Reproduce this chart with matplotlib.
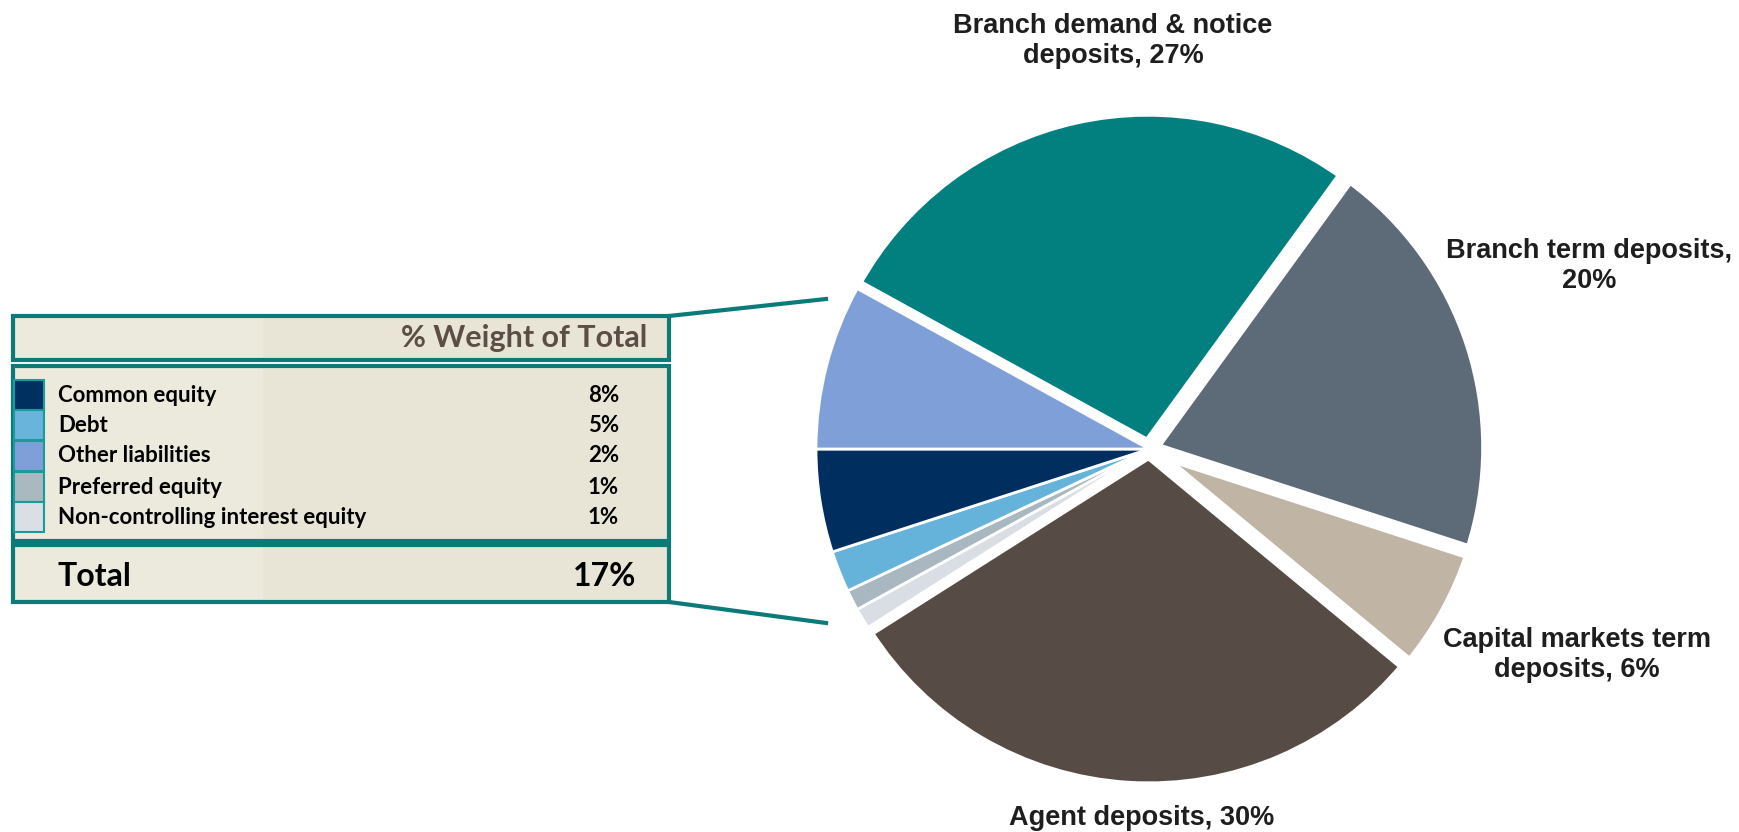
import matplotlib.pyplot as plt
from matplotlib.patches import Rectangle

# pie slices, clockwise from the teal slice
pie_values = [27, 20, 6, 30, 1, 1, 2, 5, 8]
pie_colors = ['#027f7f', '#5d6b78', '#c0b5a5', '#574c45', '#d8dee4',
              '#a9b8c0', '#65b3da', '#002f5f', '#7f9fd8']
big_slice = [True, True, True, True, False, False, False, False, False]

pie_labels = ['Branch demand & notice\ndeposits, 27%',
              'Branch term deposits,\n20%',
              'Capital markets term\ndeposits, 6%',
              'Agent deposits, 30%']
label_pos = [(1113, 41), (1589, 266), (1577, 655), (1142, 818)]

# inset table
table_labels = ['Common equity', 'Debt', 'Other liabilities', 'Preferred equity',
                'Non-controlling interest equity']
table_values = ['8%', '5%', '2%', '1%', '1%']
table_colors = ['#00305f', '#68b4da', '#7f9fd8', '#aab9c0', '#d9dfe4']
table_total = '17%'

W, H = 1739, 832
TEAL = '#0b7b7a'
BG = '#e9e5d6'

fig = plt.figure(figsize=(W / 100, H / 100), dpi=100)
ax = fig.add_axes([0, 0, 1, 1])

def Y(y):
    return H - y

cx, cy, r = 1149, 449, 333
explode = [5 if big else 0 for big in big_slice]
wedges, _ = ax.pie(pie_values, colors=pie_colors, explode=explode,
                   startangle=151.2, counterclock=False, radius=r,
                   center=(cx, Y(cy)),
                   wedgeprops=dict(edgecolor='white', linewidth=2))
for w, big in zip(wedges, big_slice):
    if big:
        w.set_linewidth(8)
ax.set_xlim(0, W)
ax.set_ylim(0, H)
ax.set_aspect('auto')
ax.axis('off')

for txt, (x, y) in zip(pie_labels, label_pos):
    ax.text(x, Y(y), txt, ha='center', va='center', fontsize=19.5,
            fontweight='bold', family='Liberation Sans', color='#1e1e1e',
            linespacing=1.2)

# table boxes
x0, x1, xs = 13, 669, 263
boxes = [(316, 360), (366, 541), (545, 602)]
for top, bot in boxes:
    ax.add_patch(Rectangle((x0, Y(bot)), x1 - x0, bot - top, facecolor=BG,
                           edgecolor='none', zorder=2))
    ax.add_patch(Rectangle((x0, Y(bot)), xs - x0, bot - top, facecolor='#ece9dd',
                           edgecolor='none', zorder=2))
    ax.add_patch(Rectangle((x0, Y(bot)), x1 - x0, bot - top, facecolor='none',
                           edgecolor=TEAL, linewidth=3, zorder=2))

ax.text(647, Y(338), '% Weight of Total', ha='right', va='center',
        fontsize=22, fontweight='bold', family='Lato', color='#5a4e45', zorder=3)

row_y = [395, 425, 456, 487, 517]
for lab, val, col, y in zip(table_labels, table_values, table_colors, row_y):
    ax.add_patch(Rectangle((14, Y(y + 15)), 30, 30, facecolor=col,
                           edgecolor='#1a9a9a', linewidth=1.5, zorder=3))
    ax.text(58, Y(y), lab, ha='left', va='center', fontsize=16,
            fontweight='bold', family='Lato', color='black', zorder=3)
    ax.text(619, Y(y), val, ha='right', va='center', fontsize=16,
            fontweight='bold', family='Lato', color='black', zorder=3)

ax.text(58, Y(577), 'Total', ha='left', va='center', fontsize=23,
        fontweight='bold', family='Lato', color='black', zorder=3)
ax.text(636, Y(577), table_total, ha='right', va='center', fontsize=23,
        fontweight='bold', family='Lato', color='black', zorder=3)

# connector lines to the pie
ax.plot([669, 826], [Y(316), Y(299)], color=TEAL, linewidth=3)
ax.plot([669, 826], [Y(602), Y(623)], color=TEAL, linewidth=3)

fig.savefig('out.png', dpi=100, facecolor='white')
